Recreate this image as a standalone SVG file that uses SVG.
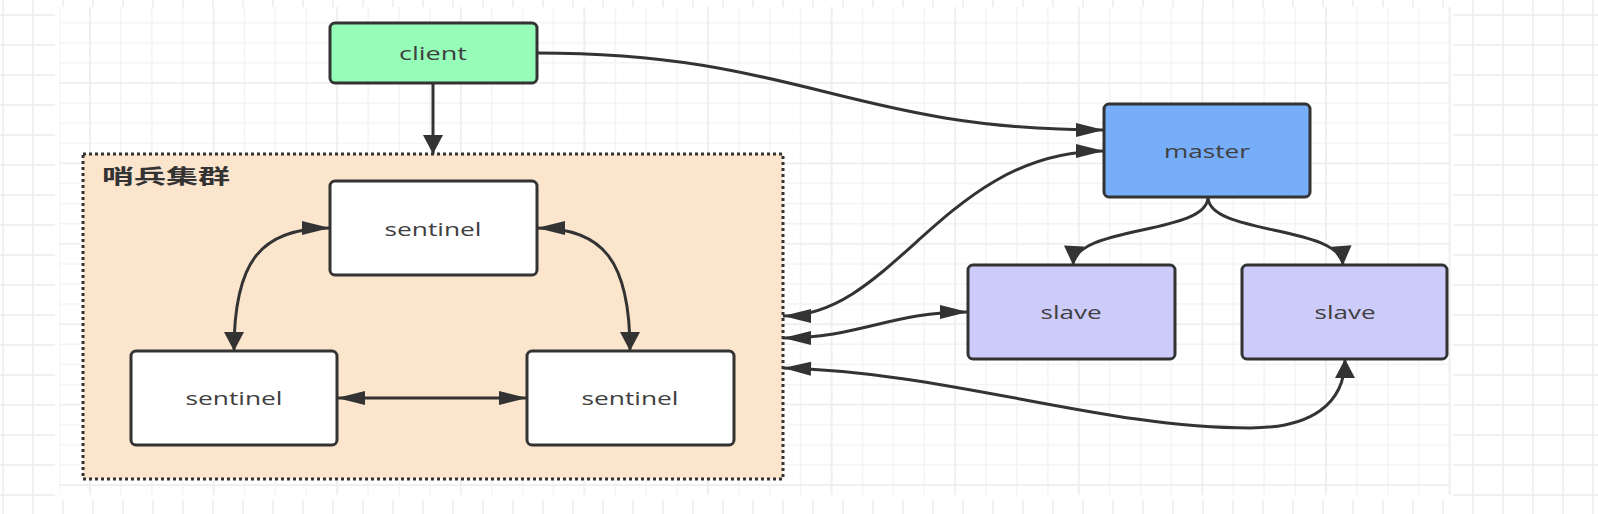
<svg xmlns="http://www.w3.org/2000/svg" width="1598" height="514" viewBox="0 0 1598 514">
<style>
.node rect{stroke:#333;stroke-width:3}
.lbl{font-family:"Open Sans","Noto Sans","Liberation Sans",sans-serif;font-size:19px;fill:#404040;text-anchor:middle}
.glbl{font-family:"Noto Sans CJK SC","Noto Sans",sans-serif;font-size:20px;font-weight:bold;fill:#333}
.edge{fill:none;stroke:#333;stroke-width:3}
</style>
<defs>
<pattern id="outer" x="2" y="14" width="30" height="30" patternUnits="userSpaceOnUse">
<path d="M1,0V30M0,1H30" stroke="#ededed" stroke-width="1.5" fill="none"/>
</pattern>
<pattern id="inner" x="89" y="82" width="123.6" height="80.4" patternUnits="userSpaceOnUse">
<path d="M31.9,0V80.4M62.8,0V80.4M93.7,0V80.4M0,21.1H123.6M0,41.2H123.6M0,61.3H123.6" stroke="#f3f3f3" stroke-width="1.5" fill="none"/>
<path d="M1,0V80.4M0,1H123.6" stroke="#ececec" stroke-width="1.6" fill="none"/>
</pattern>
<marker id="ahE" markerUnits="userSpaceOnUse" markerWidth="30" markerHeight="16" refX="28" refY="7" orient="auto" overflow="visible"><path d="M0,0L28,7L0,14z" fill="#333"/></marker>
<marker id="ahS" markerUnits="userSpaceOnUse" markerWidth="30" markerHeight="16" refX="28" refY="7" orient="auto-start-reverse" overflow="visible"><path d="M0,0L28,7L0,14z" fill="#333"/></marker>
<marker id="avE" markerUnits="userSpaceOnUse" markerWidth="20" markerHeight="20" refX="19" refY="10" orient="auto" overflow="visible"><path d="M0,0L19,10L0,20z" fill="#333"/></marker>
</defs>
<rect x="0" y="0" width="1598" height="514" fill="#fff"/>
<rect x="0" y="0" width="1598" height="514" fill="url(#outer)"/>
<rect x="55" y="7" width="1398" height="493" fill="#fff"/>
<rect x="59" y="7" width="1392" height="488" fill="url(#inner)"/>

<g id="group-sentinels">
<rect x="83" y="154" width="700" height="325" fill="#fbe5cd" stroke="#333" stroke-width="3" stroke-dasharray="3 3"/>
<text class="glbl" x="102" y="184" textLength="128" lengthAdjust="spacingAndGlyphs">哨兵集群</text>
</g>

<g id="connectors">
<path class="edge" d="M433,83V154" marker-end="url(#avE)"/>
<path class="edge" d="M537,53C800,53 850,130 1104,130" marker-end="url(#ahE)"/>
<path class="edge" d="M783,316C895,316 945,151 1104,151" marker-start="url(#ahS)" marker-end="url(#ahE)"/>
<path class="edge" d="M783,338C860,338 890,312 968,312" marker-start="url(#ahS)" marker-end="url(#ahE)"/>
<path class="edge" d="M783,368C950,372 1100,428 1250,428C1310,428 1345,405 1345,359" marker-start="url(#ahS)" marker-end="url(#avE)"/>
<path class="edge" d="M1208,197C1208,235 1075,225 1073,265" marker-end="url(#avE)"/>
<path class="edge" d="M1208,197C1208,235 1340,225 1343,265" marker-end="url(#avE)"/>
<path class="edge" d="M330,228C260,228 234,262 234,351" marker-start="url(#ahS)" marker-end="url(#avE)"/>
<path class="edge" d="M537,228C604,228 630,262 630,351" marker-start="url(#ahS)" marker-end="url(#avE)"/>
<path class="edge" d="M337,398H527" marker-start="url(#ahS)" marker-end="url(#ahE)"/>
</g>

<g id="client" class="node">
<rect x="330" y="23" width="207" height="60" rx="5" fill="#95fdb8"/>
<text class="lbl" x="433" y="60" textLength="68" lengthAdjust="spacingAndGlyphs">client</text>
</g>
<g id="sentinel-top" class="node">
<rect x="330" y="181" width="207" height="94" rx="5" fill="#fff"/>
<text class="lbl" x="433" y="236" textLength="97" lengthAdjust="spacingAndGlyphs">sentinel</text>
</g>
<g id="sentinel-left" class="node">
<rect x="131" y="351" width="206" height="94" rx="5" fill="#fff"/>
<text class="lbl" x="234" y="405" textLength="97" lengthAdjust="spacingAndGlyphs">sentinel</text>
</g>
<g id="sentinel-right" class="node">
<rect x="527" y="351" width="207" height="94" rx="5" fill="#fff"/>
<text class="lbl" x="630" y="405" textLength="97" lengthAdjust="spacingAndGlyphs">sentinel</text>
</g>
<g id="master" class="node">
<rect x="1104" y="104" width="206" height="93" rx="5" fill="#76aefa"/>
<text class="lbl" x="1207" y="158" textLength="86" lengthAdjust="spacingAndGlyphs">master</text>
</g>
<g id="slave-1" class="node">
<rect x="968" y="265" width="207" height="94" rx="5" fill="#cccbfa"/>
<text class="lbl" x="1071" y="319" textLength="61" lengthAdjust="spacingAndGlyphs">slave</text>
</g>
<g id="slave-2" class="node">
<rect x="1242" y="265" width="205" height="94" rx="5" fill="#cccbfa"/>
<text class="lbl" x="1345" y="319" textLength="61" lengthAdjust="spacingAndGlyphs">slave</text>
</g>
</svg>
